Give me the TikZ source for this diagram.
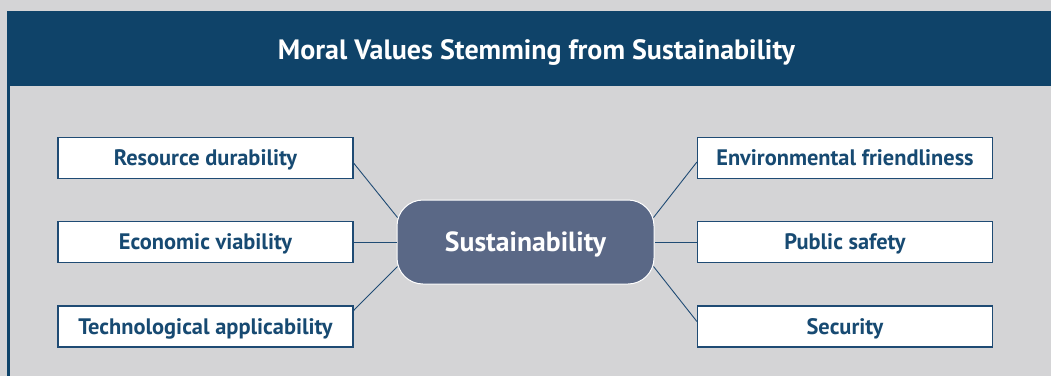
\documentclass[tikz,border=0pt]{standalone}
\usepackage{fontspec}
\setmainfont{PT Sans}
\usetikzlibrary{calc}
\definecolor{bg}{HTML}{D4D4D6}
\definecolor{hdr}{HTML}{0F4369}
\definecolor{txt}{HTML}{174A72}
\definecolor{ctr}{HTML}{5A6886}
\definecolor{ln}{HTML}{1F4B74}
\begin{document}
\begin{tikzpicture}[x=1pt,y=-1pt,
  itembox/.style={text height=15.7pt, text depth=0pt, draw=ln, line width=1.2pt, fill=white, minimum width=295pt, minimum height=41pt, inner sep=0pt, text=txt, font=\fontsize{22.4}{24}\selectfont\bfseries},
  hub/.style={text height=19.4pt, text depth=0pt, draw=white, line width=1pt, fill=ctr, rounded corners=26pt, minimum width=257pt, minimum height=84pt, inner sep=0pt, text=white, font=\fontsize{27.7}{30}\selectfont\bfseries},
  conn/.style={draw=ln, line width=0.9pt}]
\useasboundingbox (0,0) rectangle (1051,376);
\fill[bg] (0,0) rectangle (1051,376);
\fill[hdr] (7,11) rectangle (1051,86);
\fill[hdr] (7,86) rectangle (9.5,376);
\node[text height=19.6pt, text depth=0pt, inner sep=0pt, text=white, font=\fontsize{28}{30}\selectfont\bfseries] (title) at (536.5,50) {Moral Values Stemming from Sustainability};
\node[hub] (c) at (525.5,242) {Sustainability};
\node[itembox] (rd) at (205.5,158) {Resource durability};
\node[itembox] (ev) at (205.5,242) {Economic viability};
\node[itembox] (ta) at (205.5,326.5) {Technological applicability};
\node[itembox] (ef) at (845,158) {Environmental friendliness};
\node[itembox] (ps) at (845,242) {Public safety};
\node[itembox] (se) at (845,326.5) {Security};
\draw[conn] ($(rd.east)+(0,5)$) -- ($(c.north west)+(1,18)$);
\draw[conn] (ev.east) -- (c.west);
\draw[conn] ($(ta.east)+(0,-16)$) -- ($(c.south west)+(1,-18)$);
\draw[conn] ($(ef.west)+(0,4)$) -- ($(c.north east)+(-1,18)$);
\draw[conn] (ps.west) -- (c.east);
\draw[conn] ($(se.west)+(0,-5)$) -- ($(c.south east)+(-1,-18)$);
\end{tikzpicture}
\end{document}
